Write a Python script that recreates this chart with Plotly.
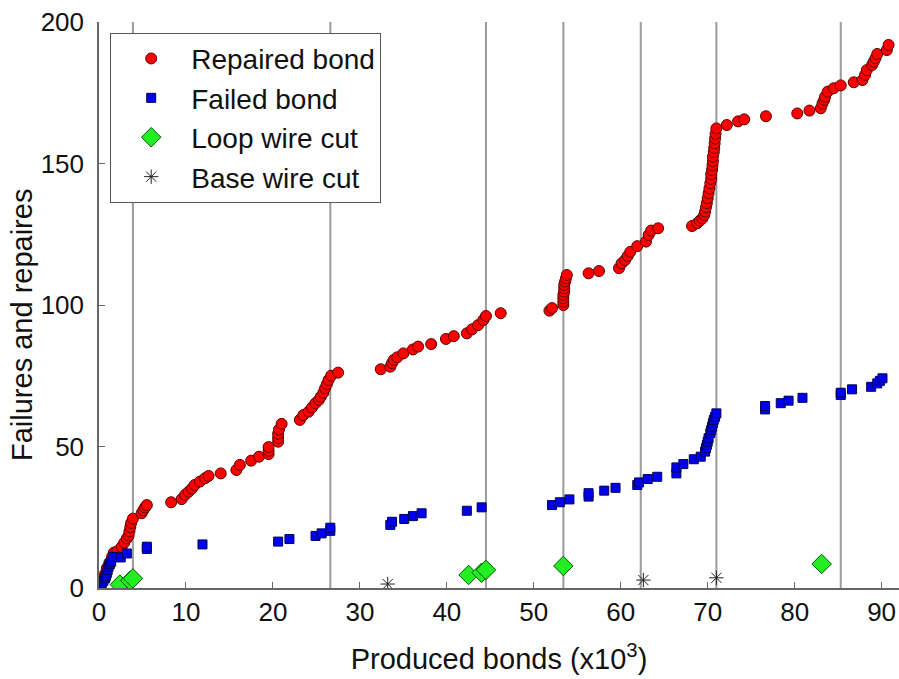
import plotly.graph_objects as go

# ---------------- data ----------------
repaired_x = [0.2, 0.4, 0.7, 0.9, 1.2, 1.5, 1.7, 2.1, 2.6, 2.9, 3.2, 3.4, 3.5, 3.6, 3.7, 3.9,
              4.9, 5.1, 5.3, 5.5, 8.3, 9.5, 9.9, 10.3, 10.7, 11.0, 11.6, 12.2, 12.6, 14.0,
              15.8, 16.2, 17.5, 18.4, 19.5, 19.5, 19.5, 20.6, 20.6, 20.6, 20.7, 21.0, 23.1,
              23.5, 24.1, 24.5, 24.9, 25.3, 25.5, 25.8, 26.0, 26.2, 26.4, 26.7, 27.5, 32.4,
              33.5, 33.7, 33.9, 34.3, 35.0, 36.1, 36.7, 38.2, 39.9, 40.8, 42.3, 42.9, 43.6,
              44.2, 44.5, 46.2, 51.8, 52.1, 53.4, 53.4, 53.4, 53.4, 53.5, 53.5, 53.5, 53.6,
              53.7, 53.8, 56.3, 57.5, 59.8, 60.1, 60.5, 60.8, 61.1, 61.9, 62.9, 63.2, 63.5,
              64.3, 68.2, 68.8, 69.1, 69.4, 69.6, 69.7, 69.8, 69.9, 70.0, 70.1, 70.2, 70.3,
              70.4, 70.4, 70.5, 70.55, 70.6, 70.6, 70.7, 70.75, 70.8, 70.85, 70.9, 71.0, 72.2,
              73.5, 74.2, 76.7, 80.3, 81.7, 83.0, 83.2, 83.4, 83.5, 83.8, 84.5, 85.3, 86.8,
              87.8, 88.1, 88.3, 88.9, 89.1, 89.3, 89.5, 90.6, 90.8]
repaired_y = [1, 3, 5, 7, 9, 11, 12.5, 13, 14.5, 16, 17.5, 18.5, 20, 21.5, 23, 24.5,
              26.4, 27.5, 28.5, 29.3, 30.3, 31.4, 32.9, 34, 35.2, 36.4, 37.6, 38.8, 39.6, 40.5,
              41.7, 43.5, 45, 46.4, 47.3, 48.5, 49.8, 51.7, 53, 54.5, 56, 58, 59.4,
              61.1, 62.3, 63.8, 65.3, 66.5, 67.6, 69, 70.6, 72, 73.5, 75, 76.1, 77.3,
              78.2, 79.5, 80.6, 81.5, 82.9, 84.3, 85.3, 86.2, 88, 89, 90, 91.4, 92.9,
              94.7, 96.1, 97.1, 98, 98.9, 100, 101.2, 102.4, 103.6, 104.7, 105.9, 107.1, 108.3,
              109.4, 110.6, 111.2, 112, 113, 114.7, 115.9, 117.3, 118.8, 120.8, 122.4, 124.7, 126.3,
              127.1, 127.9, 128.9, 129.8, 130.6, 131.8, 133, 134.5, 136, 137.7, 139.5, 141.2, 143,
              144.6, 146.2, 147.7, 149.3, 150.8, 152.4, 154, 155.5, 157.1, 158.8, 160.5, 162.4, 163.6,
              164.9, 165.6, 166.7, 167.7, 168.7, 169.5, 171.2, 172.5, 173.6, 175.4, 176.6, 177.6, 178.7,
              179.5, 181.3, 183, 184.8, 186, 187.2, 188.7, 190.1, 191.9]

failed_x = [0.1, 0.3, 0.5, 0.7, 0.8, 0.9, 1.0, 1.1, 1.25, 1.4, 1.65, 2.5, 3.2, 5.5, 5.5,
            11.9, 20.6, 21.9, 24.9, 25.6, 26.6, 26.6, 33.5, 33.7, 35.1, 36.1, 37.1, 42.3,
            44.0, 52.1, 53.0, 54.1, 56.3, 56.3, 58.1, 59.4, 61.9, 62.1, 63.1, 64.2, 66.4,
            66.4, 67.2, 68.4, 69.2, 69.7, 69.8, 69.9, 70.0, 70.1, 70.3, 70.4, 70.5, 70.6,
            70.7, 70.85, 71.0, 76.6, 76.6, 78.4, 79.3, 80.9, 85.3, 85.3, 86.6, 88.8, 89.5,
            89.8, 90.1]
failed_y = [0.5, 1.6, 2.5, 3.4, 4.3, 5.2, 6.3, 7.5, 8.4, 9.3, 11, 10.8, 12.2, 13.8, 14.6,
            15.4, 16.4, 17.3, 18.4, 19.3, 20.2, 21.3, 22.3, 23.4, 24.4, 25.4, 26.4, 27.3,
            28.5, 29.3, 30.3, 31.3, 32.3, 33.5, 34.4, 35.4, 36.4, 37.3, 38.5, 39.3, 40.5,
            42.6, 43.8, 45.5, 46.4, 48.2, 49.4, 50.5, 51.7, 52.9, 54.7, 55.8, 57, 58.2,
            59.4, 60.5, 61.7, 63.1, 64.3, 65.3, 66.2, 67.2, 68.2, 69, 70.2, 71.1, 72.3,
            73.2, 74.1]

loop_x = [2.4, 3.6, 3.9, 42.5, 44.0, 44.5, 53.4, 83.1]
loop_y = [1.2, 2.6, 3.4, 4.6, 5.4, 6.4, 7.8, 8.5]

base_x = [33.2, 62.6, 71.0]
base_y = [1.4, 2.8, 3.6]

vline_x = [3.9, 26.6, 44.5, 53.4, 62.3, 71.0, 85.3]

x_ticks = [0, 10, 20, 30, 40, 50, 60, 70, 80, 90]
y_ticks = [0, 50, 100, 150, 200]

# ---------------- figure ----------------
FONT = "Arial, Liberation Sans, sans-serif"
fig = go.Figure()

for xv in vline_x:
    fig.add_shape(type="line", x0=xv, x1=xv, y0=0, y1=200, xref="x", yref="y",
                  line=dict(color="#9a9a9a", width=2), layer="below")

fig.add_trace(go.Scatter(x=repaired_x, y=repaired_y, mode="markers", name="Repaired bond",
                         legendgroup="a",
                         marker=dict(symbol="circle", size=11, color="#ff0000",
                                     line=dict(color="#5a0000", width=1))))
fig.add_trace(go.Scatter(x=failed_x, y=failed_y, mode="markers", name="Failed bond",
                         legendgroup="b",
                         marker=dict(symbol="square", size=9, color="#0000ee",
                                     line=dict(color="#000055", width=1))))
fig.add_trace(go.Scatter(x=loop_x, y=loop_y, mode="markers", name="Loop wire cut",
                         legendgroup="c",
                         marker=dict(symbol="diamond", size=15, color="#22ee22",
                                     line=dict(color="#005500", width=1))))
fig.add_trace(go.Scatter(x=base_x, y=base_y, mode="markers", name="Base wire cut",
                         legendgroup="d",
                         marker=dict(symbol="asterisk-open", size=12, color="#222222",
                                     line=dict(color="#222222", width=1))))

axis_common = dict(showline=True, linecolor="#666666", linewidth=1.5, ticks="inside",
                   ticklen=6, tickcolor="#666666", showgrid=False, zeroline=False,
                   ticklabeloverflow="allow",
                   tickfont=dict(family=FONT, size=26, color="#111111"))

fig.update_xaxes(range=[0, 92], tickvals=x_ticks, ticklabelstandoff=0,
                 title=dict(text="Produced bonds (x10<sup>3</sup>)",
                            font=dict(family=FONT, size=29, color="#111111"), standoff=23),
                 **axis_common)
fig.update_yaxes(range=[0, 200], tickvals=y_ticks, ticklabelstandoff=8,
                 **axis_common)

fig.add_annotation(text="Failures and repaires", xref="paper", yref="paper",
                   x=-0.096, y=0.465, xanchor="center", yanchor="middle",
                   textangle=-90, showarrow=False,
                   font=dict(family=FONT, size=29, color="#111111"))

fig.update_layout(
    width=899, height=679,
    margin=dict(l=99, r=0, t=22, b=91, autoexpand=False),
    paper_bgcolor="white", plot_bgcolor="white",
    showlegend=True,
    legend=dict(x=0.014, y=0.981, xanchor="left", yanchor="top",
                bgcolor="white", bordercolor="#555555", borderwidth=1,
                font=dict(family=FONT, size=28, color="#111111"),
                tracegroupgap=0, itemwidth=70),
)

fig.write_html("out.html", config={"displayModeBar": False},
               post_script="document.body.style.margin='0';document.body.style.overflow='hidden';")
